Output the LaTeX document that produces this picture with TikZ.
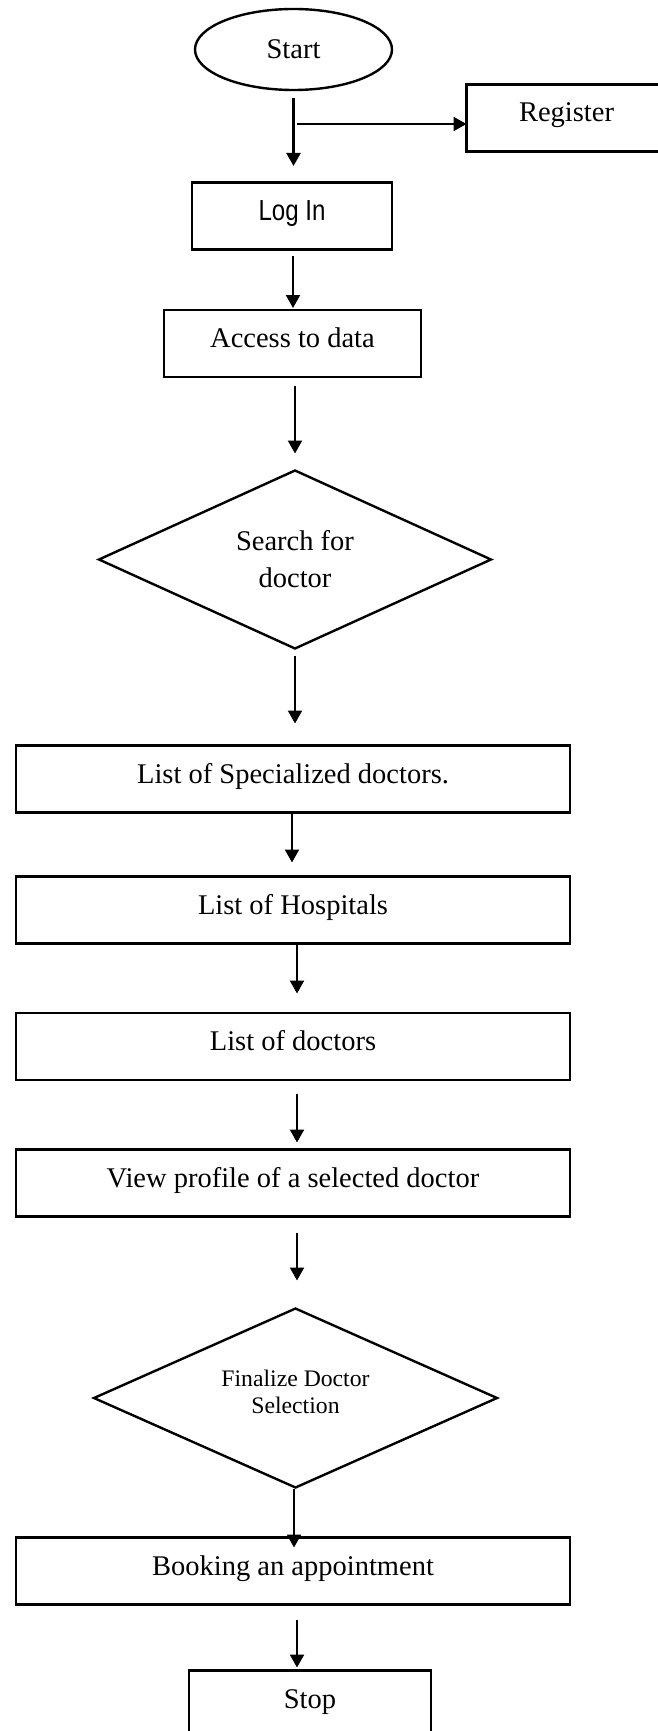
\documentclass[tikz,border=0pt]{standalone}
\usepackage{fontspec}
\setmainfont{Liberation Serif}
\newfontfamily\loginfont[FakeStretch=0.83]{Liberation Sans}
\usetikzlibrary{shapes.geometric, positioning, arrows.meta}

\begin{document}
\begin{tikzpicture}[
	every node/.style={outer sep=0pt, line width=2.4pt, font=\fontsize{28.5}{34}\selectfont},
	terminal/.style={ellipse, draw, minimum width=197pt, minimum height=81pt, inner sep=0pt},
	process/.style={rectangle, draw, minimum height=67pt, inner sep=0pt,
		text height=20pt, text depth=12pt},
	decision/.style={diamond, draw, inner sep=0pt, align=center, aspect=2.25},
	flow/.style={-{Triangle[width=14pt, length=13pt]}, line width=2.2pt},
]
% \connect{from}{to}{xshift}{gap at start}{gap at tip}.
% Vertical arrow from the bottom of one node down to the top of the next.
\def\connect#1#2#3#4#5{
	\draw[flow, shorten <=#4, shorten >=#5] ([xshift=#3]#1.south)
		-- ([xshift=#3]#1.south |- #2.north);
}
	\useasboundingbox (0,0) rectangle (657pt,-1731pt);

	\node[terminal] (start) at (293.5pt,-49.5pt) {Start};
	\node[process, minimum width=200pt, right=74.5pt of start, yshift=-68.5pt]
		(register) {Register};
	\node[process, minimum width=200pt, below=92.5pt of start, xshift=-1.5pt,
		font=\loginfont\fontsize{29}{34}\selectfont] (login) {Log In};
	\node[process, minimum width=257pt, below=60.5pt of login, xshift=0.5pt]
		(access) {Access to data};
	\node[decision, minimum width=392pt, minimum height=178pt,
		font=\fontsize{28.5}{37}\selectfont,
		below=93.5pt of access, xshift=2.5pt] (search) {Search for\\doctor};

	\node[process, minimum width=554pt, below=97pt of search, xshift=-2pt]
		(special) {List of Specialized doctors.};
	\node[process, minimum width=554pt, below=64pt of special]
		(hospitals) {List of Hospitals};
	\node[process, minimum width=554pt, below=69.5pt of hospitals]
		(doctors) {List of doctors};
	\node[process, minimum width=554pt, below=69.5pt of doctors]
		(profile) {View profile of a selected doctor};

	\node[decision, minimum width=403pt, minimum height=179pt,
		font=\fontsize{23.7}{27.5}\selectfont, text depth=12pt,
		below=92pt of profile, xshift=2.5pt] (finalize) {Finalize Doctor\\Selection};
	\node[process, minimum width=554pt, below=50pt of finalize, xshift=-2.5pt]
		(booking) {Booking an appointment};
	\node[process, minimum width=242pt, below=66pt of booking, xshift=17pt]
		(stop) {Stop};

	% Side branch to the register box.
	\coordinate (fork) at ([xshift=3.5pt, yshift=-34pt]start.south);
	\draw[flow] (fork) -- (fork -| register.west);

	\connect{start}{login}{0pt}{8pt}{16.5pt}
	\connect{login}{access}{1pt}{6.5pt}{2pt}
	\connect{access}{search}{2.5pt}{8.5pt}{17pt}
	\connect{search}{special}{0pt}{7pt}{22pt}
	\connect{special}{hospitals}{-1pt}{1pt}{14pt}
	\connect{hospitals}{doctors}{4pt}{1pt}{19.5pt}
	\connect{doctors}{profile}{4pt}{13.5pt}{7pt}
	\connect{profile}{finalize}{4pt}{16pt}{28pt}
	\connect{finalize}{booking}{-1.5pt}{1pt}{-10pt}
	\connect{booking}{stop}{4pt}{15pt}{3pt}
\end{tikzpicture}
\end{document}
